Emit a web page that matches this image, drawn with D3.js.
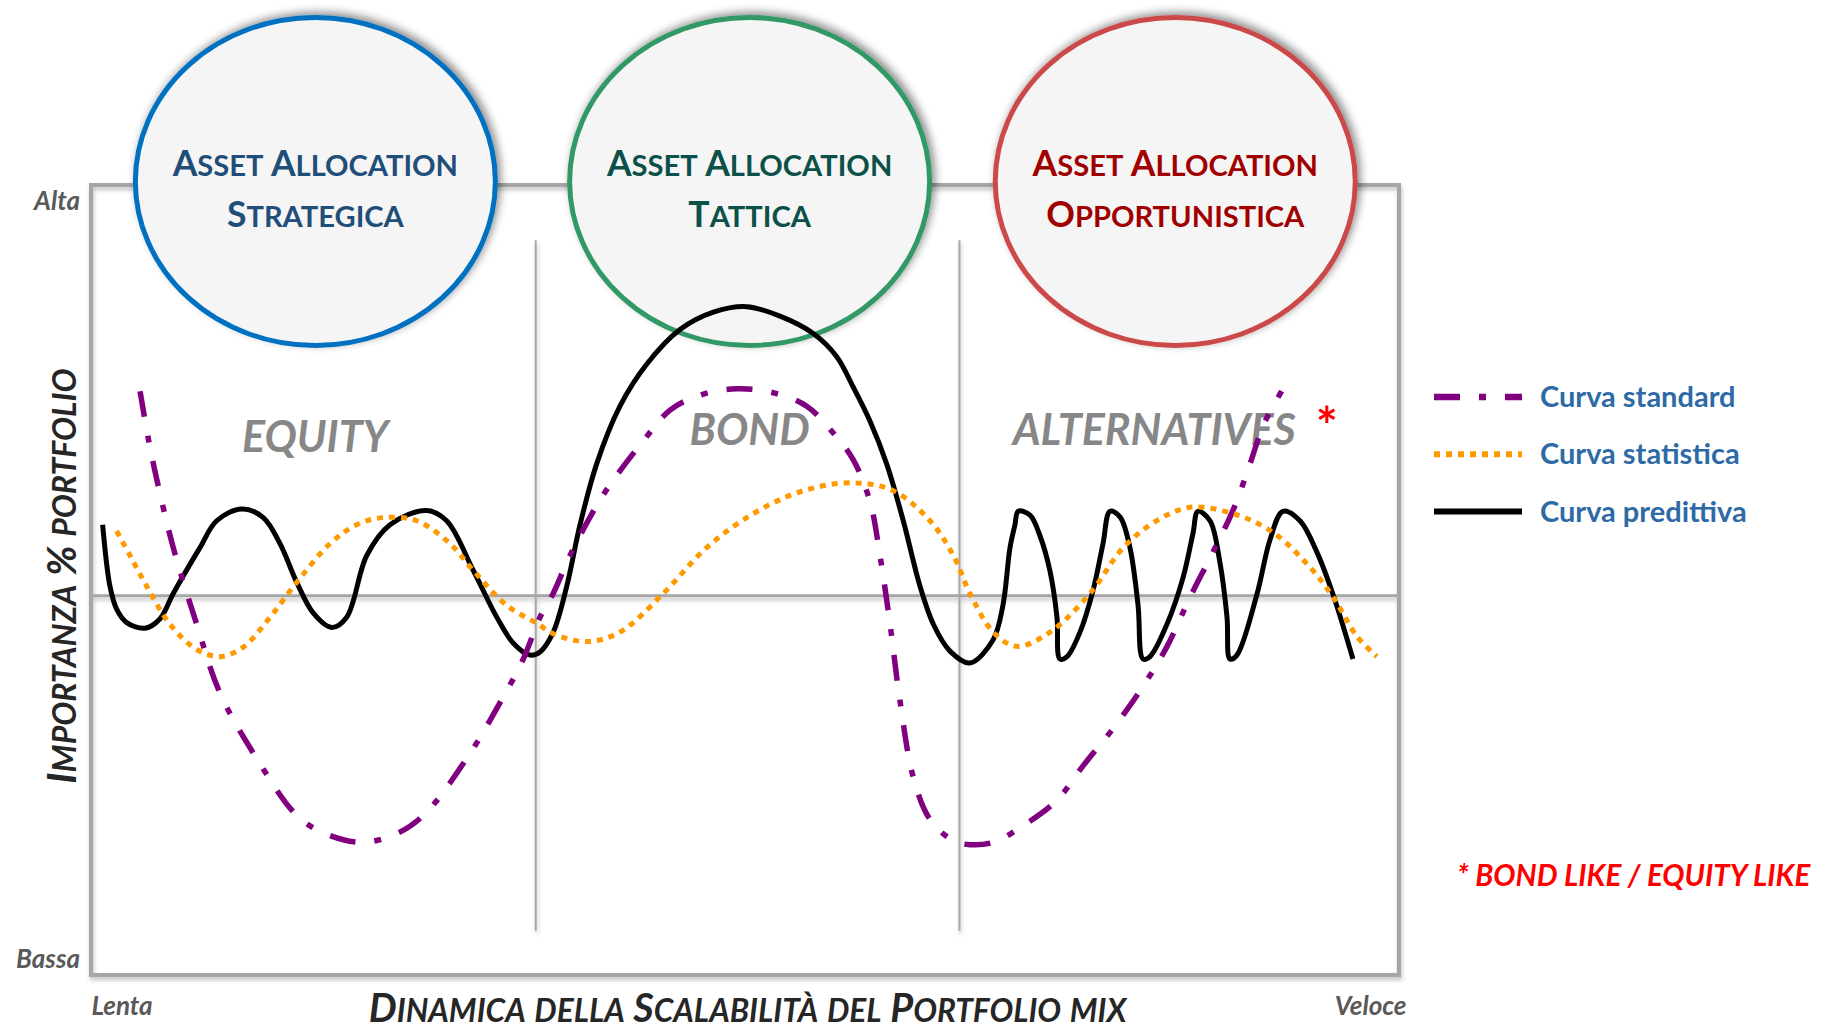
<!DOCTYPE html>
<html>
<head>
<meta charset="utf-8">
<script src="https://cdn.jsdelivr.net/npm/d3@7"></script>
<style>
  body { margin: 0; background: #fff; }
  svg { display: block; }
  text { font-family: Lato, 'Open Sans', sans-serif; }
</style>
</head>
<body>
<svg id="chart" width="1832" height="1030"></svg>
<script>
// --- data (x: 0 = Lenta .. 100 = Veloce, y: 0 = Bassa .. 100 = Alta)
const speedTicks = ['Lenta', 'Veloce']
const importanceTicks = ['Bassa', 'Alta']
const xTitle = 'Dinamica della Scalabilità del Portfolio mix'
const yTitle = 'Importanza % portfolio'
const sectionBounds = [0, 34, 66.4, 100]
const sectionNames = ['EQUITY', 'BOND', 'ALTERNATIVES']
const allocationNames = [
  ['Asset Allocation', 'Strategica'],
  ['Asset Allocation', 'Tattica'],
  ['Asset Allocation', 'Opportunistica']
]
const neutralLevel = 48
const seriesNames = ['Curva standard', 'Curva statistica', 'Curva predittiva']
const footnote = '* BOND LIKE / EQUITY LIKE'

const curvaStandard = [
  [3.75, 73.9], [4.38, 67.9], [5.02, 62.8], [6.29, 54.1], [8.08, 44.4], [9.86, 35.7],
  [12.67, 27.4], [15.73, 20.2], [17.76, 18.0], [20.57, 16.8], [23.11, 17.7], [25.41, 20.2],
  [28.72, 27.4], [31.52, 35.2], [33.05, 40.0], [34.33, 45.3], [35.34, 48.3], [36.62, 53.1],
  [39.17, 60.8], [42.22, 67.6], [44.27, 71.5], [46.56, 73.4], [49.36, 74.2], [52.16, 73.7],
  [54.72, 72.0], [56.75, 68.6], [58.28, 65.2], [59.56, 59.9], [60.32, 53.1], [61.09, 44.4],
  [61.85, 34.7], [62.87, 25.0], [64.14, 19.7], [65.93, 17.0], [67.2, 16.5], [68.98, 16.8],
  [71.54, 19.2], [73.83, 22.1], [75.86, 26.5], [78.42, 31.8], [80.45, 36.6], [82.24, 41.5],
  [84.02, 47.8], [85.8, 53.6], [87.33, 58.9], [88.61, 64.7], [89.63, 69.6], [91.03, 73.9]
]

const curvaStatistica = [
  [1.96, 56.2], [2.98, 53.1], [4.26, 49.2], [6.04, 44.4], [8.08, 41.2], [9.86, 40.3],
  [11.64, 41.5], [13.69, 45.3], [15.73, 49.7], [18.27, 54.6], [20.31, 57.0], [22.35, 57.9],
  [24.9, 57.5], [27.45, 54.6], [29.23, 51.2], [31.78, 46.8], [34.2, 44.4], [35.34, 43.2],
  [37.9, 42.2], [40.44, 43.4], [43.75, 48.3], [47.07, 54.1], [50.63, 58.4], [54.46, 61.3],
  [58.28, 62.3], [61.34, 61.3], [64.14, 57.5], [65.93, 53.1], [67.2, 48.3], [68.98, 43.4],
  [70.77, 41.6], [73.32, 43.4], [76.38, 48.3], [78.92, 54.1], [81.47, 57.5], [84.02, 59.2],
  [87.33, 58.4], [90.39, 56.0], [93.2, 51.6], [94.98, 47.8], [96.77, 42.9], [98.3, 40.3]
]

const curvaPredittiva = [
  [0.89, 57.0], [1.45, 49.2], [1.96, 46.3], [2.73, 44.6], [4.13, 43.9], [5.28, 45.1],
  [6.29, 48.3], [8.33, 54.1], [9.61, 57.5], [11.52, 59.0], [13.17, 57.9], [14.45, 54.6],
  [15.73, 49.7], [17.0, 45.8], [18.4, 44.0], [19.55, 45.3], [21.08, 53.1], [22.86, 57.0],
  [25.66, 58.8], [27.19, 57.5], [29.23, 51.2], [31.02, 45.3], [32.29, 42.0], [33.56, 40.5],
  [34.33, 40.9], [35.34, 43.4], [36.37, 49.2], [37.39, 57.0], [38.66, 64.7], [40.44, 72.0],
  [42.48, 77.3], [45.03, 81.7], [47.58, 83.9], [50.13, 84.6], [52.68, 83.4], [55.22, 81.2],
  [57.0, 78.3], [58.28, 74.4], [59.56, 70.1], [60.83, 64.7], [62.1, 57.5], [63.38, 49.2],
  [64.4, 44.4], [65.67, 41.0], [67.2, 39.5], [68.96, 42.4], [69.72, 46.8], [70.26, 54.1],
  [70.64, 57.0], [70.89, 58.7], [71.79, 58.2], [72.55, 55.6], [73.32, 51.1], [73.85, 45.3],
  [74.08, 40.0], [74.62, 40.3], [75.61, 43.4], [76.61, 48.7], [77.37, 54.6], [77.91, 58.7],
  [78.67, 58.0], [79.43, 54.1], [80.05, 46.8], [80.43, 40.0], [80.96, 40.3], [82.26, 44.4],
  [83.49, 50.3], [84.25, 55.9], [84.63, 58.7], [85.55, 57.5], [86.31, 52.2], [86.85, 45.3],
  [87.08, 40.0], [87.61, 40.5], [89.14, 48.2], [90.14, 55.1], [91.13, 58.7], [92.43, 57.5],
  [93.73, 53.5], [94.95, 48.2], [96.48, 40.0]
]

const seriesData = [curvaStandard, curvaStatistica, curvaPredittiva]

// --- look
const margin = { left: 91, right: 433, top: 185, bottom: 55 }
const width = 1832
const height = 1030
const gridGrey = '#a6a6a6'
const labelGrey = '#595959'
const ringColors = ['#0070c0', '#339966', '#cc4a4a']
const ringTextColors = ['#1f4e79', '#0b5149', '#a00000']
const seriesStyles = [
  { color: '#800080', width: 5.5, dash: '26,19,7,19' },
  { color: '#ff9900', width: 5, dash: '6,6' },
  { color: '#000000', width: 5, dash: null }
]

const svg = d3.select('#chart')

const defs = svg.append('defs')
defs.append('filter').attr('id', 'frameShadow')
  .attr('x', '-5%').attr('y', '-5%').attr('width', '110%').attr('height', '110%')
  .append('feDropShadow')
  .attr('dx', 1).attr('dy', 3).attr('stdDeviation', 2)
  .attr('flood-color', '#000').attr('flood-opacity', 0.25)
defs.append('filter').attr('id', 'ringShadow')
  .attr('x', '-10%').attr('y', '-10%').attr('width', '120%').attr('height', '120%')
  .append('feDropShadow')
  .attr('dx', 3).attr('dy', -3).attr('stdDeviation', 4)
  .attr('flood-color', '#000').attr('flood-opacity', 0.45)

const xScale = d3.scaleLinear()
  .domain([0, 100])
  .range([margin.left, width - margin.right])

const yScale = d3.scaleLinear()
  .domain([0, 100])
  .range([height - margin.bottom, margin.top])

// split a string into big caps / small caps tspans
function smallCaps (textSel, str, size, ratio) {
  const runs = []
  for (const ch of str) {
    const big = ch !== ch.toLowerCase() || !/\p{L}/u.test(ch)
    const last = runs[runs.length - 1]
    if (last && last.big === big) last.txt += ch
    else runs.push({ big, txt: ch })
  }
  runs.forEach(r => {
    textSel.append('tspan')
      .attr('font-size', r.big ? size : size * ratio)
      .text(r.txt.toUpperCase())
  })
}

// --- frame, neutral line, section dividers
const frame = svg.append('g').attr('filter', 'url(#frameShadow)')

frame.append('rect')
  .attr('x', xScale(0))
  .attr('y', yScale(100))
  .attr('width', xScale(100) - xScale(0))
  .attr('height', yScale(0) - yScale(100))
  .attr('fill', 'none')
  .attr('stroke', gridGrey)
  .attr('stroke-width', 4)

frame.append('line')
  .attr('x1', xScale(0)).attr('x2', xScale(100))
  .attr('y1', yScale(neutralLevel)).attr('y2', yScale(neutralLevel))
  .attr('stroke', gridGrey)
  .attr('stroke-width', 3)

frame.selectAll('.divider')
  .data(sectionBounds.slice(1, -1))
  .join('line')
  .attr('class', 'divider')
  .attr('x1', d => xScale(d)).attr('x2', d => xScale(d))
  .attr('y1', yScale(93)).attr('y2', yScale(5.6))
  .attr('stroke', gridGrey)
  .attr('stroke-width', 2)

// --- axes (only the two end labels)
const yAxis = d3.axisLeft(yScale)
  .tickValues([2, 98])
  .tickSize(0)
  .tickPadding(11)
  .tickFormat((d, i) => importanceTicks[i])

svg.append('g')
  .attr('transform', `translate(${xScale(0)},0)`)
  .call(yAxis)
  .call(g => g.select('.domain').remove())
  .call(g => g.selectAll('.tick text')
    .attr('font-family', 'Lato, sans-serif')
    .attr('font-size', 26)
    .attr('font-weight', 700)
    .attr('font-style', 'italic')
    .attr('fill', labelGrey))

const xAxis = d3.axisBottom(xScale)
  .tickValues([0, 100])
  .tickSize(0)
  .tickPadding(22)
  .tickFormat((d, i) => speedTicks[i])

svg.append('g')
  .attr('transform', `translate(0,${yScale(0)})`)
  .call(xAxis)
  .call(g => g.select('.domain').remove())
  .call(g => g.selectAll('.tick text')
    .attr('font-family', 'Lato, sans-serif')
    .attr('font-size', 26)
    .attr('font-weight', 700)
    .attr('font-style', 'italic')
    .attr('fill', labelGrey)
    .attr('dx', (d, i) => i === 0 ? 0 : 7)
    .attr('text-anchor', (d, i) => i === 0 ? 'start' : 'end'))

// axis titles
const xTitleText = svg.append('text')
  .attr('x', xScale(50.2))
  .attr('y', 1022)
  .attr('text-anchor', 'middle')
  .attr('font-weight', 700)
  .attr('font-style', 'italic')
  .attr('fill', '#262626')
smallCaps(xTitleText, xTitle, 39.5, 0.8)

const yTitleText = svg.append('text')
  .attr('transform', `translate(76,${yScale(50.5)}) rotate(-90)`)
  .attr('text-anchor', 'middle')
  .attr('font-weight', 700)
  .attr('font-style', 'italic')
  .attr('fill', '#262626')
smallCaps(yTitleText, yTitle, 40, 0.8)

// --- section labels
const sectionMid = i => (sectionBounds[i] + sectionBounds[i + 1]) / 2

svg.selectAll('.section')
  .data(sectionNames)
  .join('text')
  .attr('class', 'section')
  .attr('x', (d, i) => xScale(sectionMid(i)) + (i === 2 ? -4 : 2))
  .attr('y', (d, i) => i === 0 ? 452 : 445)
  .attr('text-anchor', 'middle')
  .attr('font-size', 43)
  .attr('font-weight', 700)
  .attr('font-style', 'italic')
  .attr('fill', '#878787')
  .each(function (d, i) {
    const t = d3.select(this)
    t.append('tspan').text(d)
    if (i === 2) {
      t.append('tspan')
        .attr('dx', 20)
        .attr('font-size', 52)
        .attr('font-style', 'normal')
        .attr('fill', '#ff0000')
        .text('*')
    }
  })

// --- allocation rings
const rings = svg.selectAll('.ring')
  .data(allocationNames)
  .join('g')
  .attr('class', 'ring')
  .attr('transform', (d, i) => `translate(${xScale(sectionMid(i)) + (i === 2 ? -4 : 2)},181.5)`)

rings.append('ellipse')
  .attr('rx', 180)
  .attr('ry', 164)
  .attr('fill', '#f5f5f5')
  .attr('stroke', (d, i) => ringColors[i])
  .attr('stroke-width', 5)
  .attr('filter', 'url(#ringShadow)')

rings.each(function (lines, i) {
  lines.forEach((line, j) => {
    const t = d3.select(this).append('text')
      .attr('y', j === 0 ? -6 : 45)
      .attr('text-anchor', 'middle')
      .attr('font-weight', 700)
      .attr('fill', ringTextColors[i])
    smallCaps(t, line, 35.5, 0.82)
  })
})

// --- curves
const lineGen = d3.line()
  .x(d => xScale(d[0]))
  .y(d => yScale(d[1]))
  .curve(d3.curveCatmullRom.alpha(0.5))

const drawOrder = [2, 0, 1]
svg.selectAll('.curve')
  .data(drawOrder)
  .join('path')
  .attr('class', 'curve')
  .attr('d', i => lineGen(seriesData[i]))
  .attr('fill', 'none')
  .attr('stroke', i => seriesStyles[i].color)
  .attr('stroke-width', i => seriesStyles[i].width)
  .attr('stroke-dasharray', i => seriesStyles[i].dash)
  .attr('stroke-linejoin', 'round')

// --- legend
const legend = svg.append('g').attr('transform', 'translate(1434,397)')

const legendRows = legend.selectAll('.row')
  .data(seriesNames)
  .join('g')
  .attr('class', 'row')
  .attr('transform', (d, i) => `translate(0,${i * 57.3})`)

legendRows.append('line')
  .attr('x1', 0).attr('x2', 88)
  .attr('stroke', (d, i) => seriesStyles[i].color)
  .attr('stroke-width', (d, i) => seriesStyles[i].width + 1)
  .attr('stroke-dasharray', (d, i) => seriesStyles[i].dash)

legendRows.append('text')
  .attr('x', 106)
  .attr('y', 10)
  .attr('font-size', 29)
  .attr('font-weight', 700)
  .attr('fill', '#2e6aa6')
  .text(d => d)

// --- footnote
svg.append('text')
  .attr('x', 1457)
  .attr('y', 886)
  .attr('font-size', 29.5)
  .attr('font-weight', 700)
  .attr('font-style', 'italic')
  .attr('fill', '#ff0000')
  .text(footnote)
</script>
</body>
</html>
